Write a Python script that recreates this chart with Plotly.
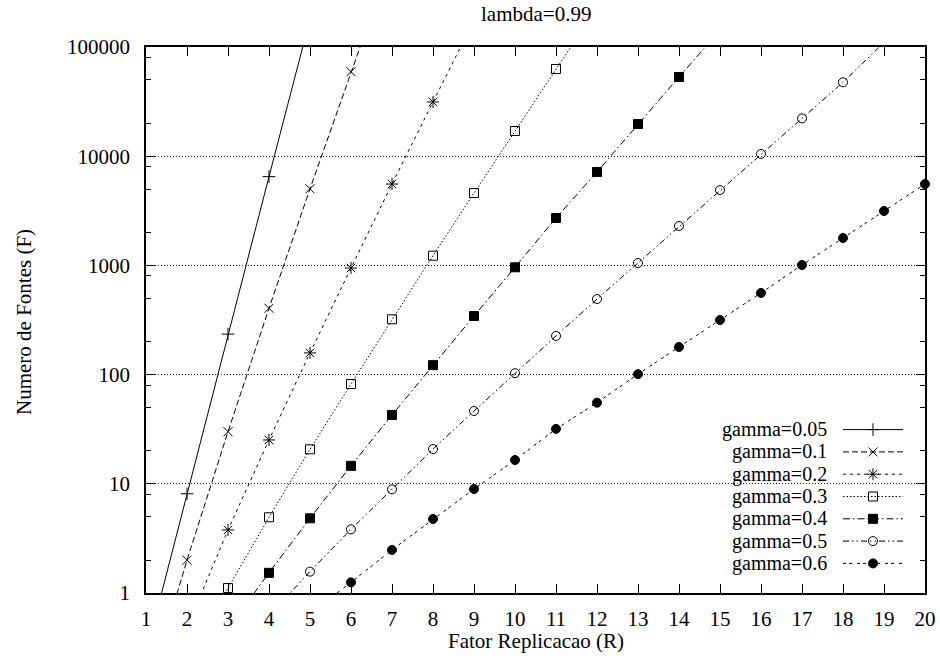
import plotly.graph_objects as go

# Number of sources F versus replication factor R, lambda = 0.99
gamma_labels = ["gamma=0.05", "gamma=0.1", "gamma=0.2", "gamma=0.3",
                "gamma=0.4", "gamma=0.5", "gamma=0.6"]

r_g005 = [1, 2, 3, 4, 5]
f_g005 = [0.28, 8.1, 235, 6500, 180000]

r_g01 = [1, 2, 3, 4, 5, 6, 7]
f_g01 = [0.11, 2.0, 30, 405, 5030, 59400, 670000]

r_g02 = [2, 3, 4, 5, 6, 7, 8, 9]
f_g02 = [0.48, 3.78, 25.2, 158, 946, 5560, 31400, 175000]

r_g03 = [2, 3, 4, 5, 6, 7, 8, 9, 10, 11, 12]
f_g03 = [0.24, 1.11, 4.94, 20.7, 82, 321, 1227, 4600, 17000, 62900, 230000]

r_g04 = [3, 4, 5, 6, 7, 8, 9, 10, 11, 12, 13, 14, 15]
f_g04 = [0.47, 1.53, 4.83, 14.6, 42.7, 122, 344, 961, 2716, 7170, 19700,
         53100, 142000]

r_g05 = [4, 5, 6, 7, 8, 9, 10, 11, 12, 13, 14, 15, 16, 17, 18, 19]
f_g05 = [0.62, 1.57, 3.83, 8.9, 20.8, 46.4, 103, 226, 492, 1052, 2296, 4900,
         10500, 22200, 47500, 110000]

r_g06 = [5, 6, 7, 8, 9, 10, 11, 12, 13, 14, 15, 16, 17, 18, 19, 20]
f_g06 = [0.65, 1.25, 2.48, 4.76, 8.96, 16.5, 31.8, 55.3, 101, 179, 316, 559,
         1008, 1782, 3150, 5560]

x_ticks = list(range(1, 21))
y_ticks = [1, 10, 100, 1000, 10000, 100000]
y_tick_text = ["1", "10", "100", "1000", "10000", "100000"]
y_minor = [m * 10 ** e for e in range(0, 5) for m in (2, 5, 8)]

series = [
    (r_g005, f_g005),
    (r_g01, f_g01),
    (r_g02, f_g02),
    (r_g03, f_g03),
    (r_g04, f_g04),
    (r_g05, f_g05),
    (r_g06, f_g06),
]

# gnuplot-like line types and point types
dashes = ["solid", "6px,3px", "3px,4px", "1.5px,2px",
          "7px,3px,1.5px,3px", "6px,3px,1.5px,3px,1.5px,3px", "3px,3px,3px,5px"]
symbols = ["cross-thin-open", "x-thin-open", "asterisk-open", "square-open",
           "square", "circle-open", "circle"]
msizes = [9, 9, 10, 9, 9, 9, 9]

FONT = "Liberation Serif"
FS = 21
KEY_FS = 20
W, H = 940, 661
L, R_, T, B = 146, 15, 47, 68
PW, PH = W - L - R_, H - T - B


def px_x(px):
    return (px - L) / PW


def px_y(py):
    return (H - B - py) / PH


fig = go.Figure()

Y_MIN, Y_MAX = 1, 100000
for (rv, fv), dash, sym, ms in zip(series, dashes, symbols, msizes):
    fig.add_trace(go.Scatter(
        x=rv, y=fv, mode="lines", showlegend=False,
        line=dict(color="black", width=1, dash=dash),
        hoverinfo="skip"))
    inr = [(r, f) for r, f in zip(rv, fv) if Y_MIN <= f <= Y_MAX]
    fig.add_trace(go.Scatter(
        x=[p[0] for p in inr], y=[p[1] for p in inr], mode="markers",
        showlegend=False, cliponaxis=False,
        marker=dict(symbol=sym, size=ms, color="black",
                    line=dict(color="black", width=1))))

# key drawn in the lower right corner, text on the left, sample on the right
KEY_MID = 496.5
KEY_STEP = 22.3
KEY_TEXT_RIGHT = 829
SAMPLE_X0, SAMPLE_X1 = 843, 903
annotations = []
n_keys = len(gamma_labels)
for i, (lab, dash, sym, ms) in enumerate(zip(gamma_labels, dashes, symbols, msizes)):
    yy = KEY_MID + (i - (n_keys - 1) / 2) * KEY_STEP
    annotations.append(dict(
        x=px_x(KEY_TEXT_RIGHT), y=px_y(yy), xref="paper", yref="paper",
        text=lab, showarrow=False, xanchor="right", yanchor="middle",
        font=dict(family=FONT, size=KEY_FS, color="black")))
    fig.add_trace(go.Scatter(
        x=[SAMPLE_X0, SAMPLE_X1], y=[yy, yy], xaxis="x2", yaxis="y2",
        mode="lines", showlegend=False, hoverinfo="skip",
        line=dict(color="black", width=1, dash=dash)))
    fig.add_trace(go.Scatter(
        x=[(SAMPLE_X0 + SAMPLE_X1) / 2], y=[yy], xaxis="x2", yaxis="y2",
        mode="markers", showlegend=False, hoverinfo="skip", cliponaxis=False,
        marker=dict(symbol=sym, size=ms, color="black",
                    line=dict(color="black", width=1))))

annotations += [
    dict(x=0.5, y=px_y(14), xref="paper", yref="paper", text="lambda=0.99",
         showarrow=False, xanchor="center", yanchor="middle",
         font=dict(family=FONT, size=FS, color="black")),
    dict(x=0.5, y=px_y(641), xref="paper", yref="paper",
         text="Fator Replicacao (R)", showarrow=False,
         xanchor="center", yanchor="middle",
         font=dict(family=FONT, size=FS, color="black")),
    dict(x=px_x(24), y=px_y(322), xref="paper", yref="paper",
         text="Numero de Fontes (F)", showarrow=False, textangle=-90,
         xanchor="center", yanchor="middle",
         font=dict(family=FONT, size=FS, color="black")),
]

axis_common = dict(
    showline=True, linecolor="black", linewidth=1.5, mirror="ticks",
    ticks="inside", ticklen=9, tickwidth=1, tickcolor="black",
    tickfont=dict(family=FONT, size=FS, color="black"),
    automargin=False, zeroline=False,
)

fig.update_layout(
    width=W, height=H,
    margin=dict(l=L, r=R_, t=T, b=B, pad=0),
    paper_bgcolor="white", plot_bgcolor="white",
    showlegend=False,
    xaxis=dict(range=[1, 20], tickvals=x_ticks, showgrid=False,
               ticklabelstandoff=6, **axis_common),
    yaxis=dict(type="log", range=[0, 5], tickvals=y_ticks,
               ticktext=y_tick_text, showgrid=True, gridcolor="#222",
               gridwidth=1, griddash="1px,2px", ticklabelstandoff=10,
               minor=dict(tickvals=y_minor, ticks="inside", ticklen=5,
                          tickcolor="black", tickwidth=1, showgrid=False),
               **axis_common),
    xaxis2=dict(range=[L, L + PW], overlaying="x", visible=False),
    yaxis2=dict(range=[H - B, T], overlaying="y", visible=False),
    annotations=annotations,
    shapes=[dict(type="rect", xref="paper", yref="paper",
                 x0=px_x(699), x1=1, y0=px_y(578), y1=px_y(416),
                 fillcolor="white", line=dict(width=0), layer="between")],
)

fig.write_html("out.html")
